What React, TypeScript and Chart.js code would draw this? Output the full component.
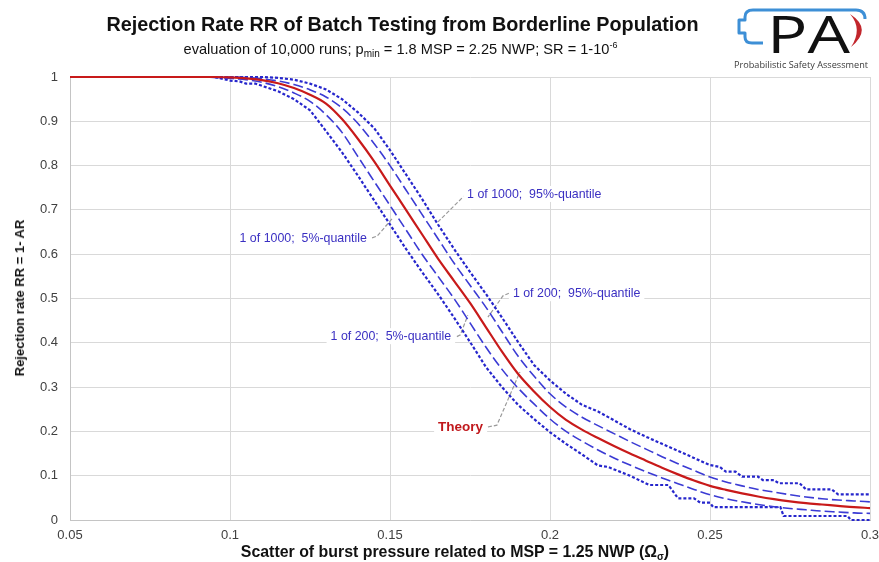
import React, { useEffect, useRef } from "react";
import { Chart, registerables } from "chart.js";

Chart.register(...registerables);

// Shared x grid (scatter of burst pressure) for the theory and 1-of-200 curves
const xGrid = [
  0.05, 0.09, 0.095, 0.1, 0.105, 0.11, 0.115, 0.12, 0.125, 0.13, 0.135, 0.14, 0.145,
  0.15, 0.155, 0.16, 0.165, 0.17, 0.175, 0.18, 0.185, 0.19, 0.195, 0.2, 0.205, 0.21,
  0.215, 0.22, 0.225, 0.23, 0.235, 0.24, 0.245, 0.25, 0.255, 0.26, 0.265, 0.27, 0.275,
  0.28, 0.285, 0.29, 0.295, 0.3,
];

const theoryRR = [
  1, 1, 1, 0.999, 0.997, 0.993, 0.986, 0.975, 0.96, 0.94, 0.905, 0.86, 0.81,
  0.755, 0.7, 0.645, 0.59, 0.54, 0.49, 0.435, 0.38, 0.33, 0.29, 0.255, 0.226, 0.204,
  0.185, 0.167, 0.15, 0.134, 0.118, 0.103, 0.089, 0.077, 0.068, 0.06, 0.053, 0.047, 0.042,
  0.038, 0.035, 0.032, 0.029, 0.027,
];

const q95of200 = [
  1, 1, 1, 1, 0.999, 0.996, 0.991, 0.983, 0.971, 0.955, 0.93, 0.895, 0.85,
  0.8, 0.745, 0.69, 0.635, 0.58, 0.53, 0.48, 0.425, 0.37, 0.325, 0.285, 0.255, 0.232,
  0.213, 0.195, 0.177, 0.16, 0.143, 0.127, 0.112, 0.097, 0.086, 0.077, 0.069, 0.063, 0.057,
  0.052, 0.048, 0.045, 0.043, 0.041,
];

const q5of200 = [
  1, 1, 0.999, 0.997, 0.994, 0.988, 0.978, 0.964, 0.945, 0.915, 0.875, 0.82, 0.765,
  0.71, 0.655, 0.6, 0.55, 0.5, 0.445, 0.39, 0.34, 0.298, 0.262, 0.228, 0.2, 0.178,
  0.158, 0.14, 0.124, 0.109, 0.095, 0.082, 0.069, 0.057, 0.048, 0.041, 0.035, 0.03, 0.026,
  0.023, 0.02, 0.018, 0.016, 0.015,
];

// 1 of 1000 quantiles (stepped, noisy simulation results)
const x95of1000 = [
  0.05, 0.11, 0.115, 0.12, 0.125, 0.13, 0.135, 0.14, 0.145, 0.15, 0.155, 0.16, 0.165,
  0.17, 0.175, 0.18, 0.185, 0.19, 0.195, 0.2, 0.205, 0.21, 0.215, 0.22, 0.225, 0.23,
  0.235, 0.24, 0.245, 0.25, 0.253, 0.255, 0.258, 0.26, 0.265, 0.2665, 0.27, 0.2715,
  0.278, 0.28, 0.288, 0.29, 0.3,
];
const q95of1000 = [
  1, 1, 0.998, 0.994, 0.985, 0.972, 0.95, 0.92, 0.885, 0.835, 0.78, 0.725, 0.667,
  0.612, 0.56, 0.51, 0.457, 0.402, 0.35, 0.315, 0.285, 0.26, 0.245, 0.225, 0.205, 0.188,
  0.172, 0.156, 0.14, 0.124, 0.12, 0.109, 0.109, 0.098, 0.098, 0.09, 0.09, 0.083,
  0.083, 0.069, 0.069, 0.058, 0.058,
];

const x5of1000 = [
  0.05, 0.095, 0.1, 0.103, 0.105, 0.108, 0.11, 0.115, 0.12, 0.125, 0.13, 0.135, 0.14,
  0.145, 0.15, 0.155, 0.16, 0.165, 0.17, 0.175, 0.18, 0.185, 0.19, 0.195, 0.2, 0.205,
  0.21, 0.215, 0.218, 0.225, 0.231, 0.237, 0.24, 0.245, 0.247, 0.25, 0.251, 0.272,
  0.273, 0.293, 0.294, 0.3,
];
const q5of1000 = [
  1, 1, 0.992, 0.99, 0.985, 0.985, 0.98, 0.968, 0.95, 0.925, 0.878, 0.83, 0.777,
  0.722, 0.667, 0.612, 0.56, 0.51, 0.457, 0.402, 0.345, 0.3, 0.26, 0.228, 0.198, 0.172,
  0.148, 0.123, 0.12, 0.1, 0.079, 0.079, 0.049, 0.049, 0.039, 0.039, 0.029, 0.029,
  0.009, 0.009, 0, 0,
];

// Axis ticks
const xTicks = [0.05, 0.1, 0.15, 0.2, 0.25, 0.3];
const yTicks = [0, 0.1, 0.2, 0.3, 0.4, 0.5, 0.6, 0.7, 0.8, 0.9, 1];

// Callout labels (in data coordinates)
const noteTexts = [
  "1 of 1000;  95%-quantile",
  "1 of 1000;  5%-quantile",
  "1 of 200;  95%-quantile",
  "1 of 200;  5%-quantile",
  "Theory",
];
const noteX = [0.1741, 0.1428, 0.1884, 0.1691, 0.1791];
const noteY = [0.736, 0.637, 0.512, 0.415, 0.21];
const noteAlign = ["left", "right", "left", "right", "right"];
const leaderX = [
  [0.1738, 0.1728, 0.165],
  [0.1444, 0.146, 0.1509],
  [0.1872, 0.1853, 0.1806],
  [0.1709, 0.172, 0.1743],
  [0.1806, 0.1834, 0.1906],
];
const leaderY = [
  [0.736, 0.729, 0.673],
  [0.637, 0.641, 0.682],
  [0.512, 0.506, 0.458],
  [0.414, 0.418, 0.462],
  [0.21, 0.214, 0.334],
];

const FONT = '"Liberation Sans", Arial, Helvetica, sans-serif';
const BLUE_TXT = "#3a2fc2";

const notesPlugin = {
  id: "notes",
  beforeDatasetsDraw(chart: any) {
    const { ctx, scales } = chart;
    const xs = scales.x;
    const ys = scales.y;
    ctx.save();
    // leader lines
    ctx.strokeStyle = "#9a9a9a";
    ctx.lineWidth = 1.2;
    ctx.setLineDash([4, 2]);
    leaderX.forEach((lx, i) => {
      ctx.beginPath();
      lx.forEach((xv, j) => {
        const px = xs.getPixelForValue(xv);
        const py = ys.getPixelForValue(leaderY[i][j]);
        if (j === 0) ctx.moveTo(px, py);
        else ctx.lineTo(px, py);
      });
      ctx.stroke();
    });
    ctx.setLineDash([]);
    // labels
    noteTexts.forEach((t, i) => {
      const isTheory = t === "Theory";
      ctx.font = isTheory ? `bold 13.5px ${FONT}` : `12.4px ${FONT}`;
      const w = ctx.measureText(t).width;
      const px = xs.getPixelForValue(noteX[i]);
      const py = ys.getPixelForValue(noteY[i]);
      const left = noteAlign[i] === "left" ? px : px - w;
      ctx.fillStyle = "#ffffff";
      ctx.fillRect(left - 4, py - 8, w + 8, 16);
      ctx.fillStyle = isTheory ? "#c0181c" : BLUE_TXT;
      ctx.textBaseline = "middle";
      ctx.textAlign = "left";
      ctx.fillText(t, left, py + 0.5);
    });
    ctx.restore();
  },
};

export default function App() {
  const ref = useRef<HTMLCanvasElement | null>(null);

  useEffect(() => {
    const pts = (xa: number[], ya: number[]) => xa.map((x, i) => ({ x, y: ya[i] }));
    const chart = new Chart(ref.current as HTMLCanvasElement, {
      type: "line",
      data: {
        datasets: [
          {
            label: "Theory",
            data: pts(xGrid, theoryRR),
            borderColor: "#c81a1a",
            borderWidth: 2.2,
            cubicInterpolationMode: "monotone",
            pointRadius: 0,
            clip: 3,
          },
          {
            label: "1 of 200; 95%-quantile",
            data: pts(xGrid, q95of200),
            borderColor: "#3b3bd4",
            borderWidth: 1.6,
            borderDash: [10, 4],
            cubicInterpolationMode: "monotone",
            pointRadius: 0,
            clip: 3,
          },
          {
            label: "1 of 200; 5%-quantile",
            data: pts(xGrid, q5of200),
            borderColor: "#3b3bd4",
            borderWidth: 1.6,
            borderDash: [10, 4],
            cubicInterpolationMode: "monotone",
            pointRadius: 0,
            clip: 3,
          },
          {
            label: "1 of 1000; 95%-quantile",
            data: pts(x95of1000, q95of1000),
            borderColor: "#2626cc",
            borderWidth: 2.2,
            borderDash: [3, 2],
            tension: 0,
            pointRadius: 0,
            clip: 3,
          },
          {
            label: "1 of 1000; 5%-quantile",
            data: pts(x5of1000, q5of1000),
            borderColor: "#2626cc",
            borderWidth: 2.2,
            borderDash: [3, 2],
            tension: 0,
            pointRadius: 0,
            clip: 3,
          },
        ],
      },
      options: {
        responsive: false,
        animation: false,
        devicePixelRatio: 1,
        layout: { padding: { left: 0, right: 9, top: 77, bottom: 0 } },
        plugins: {
          legend: { display: false },
          tooltip: { enabled: false },
          title: { display: false },
        },
        elements: { point: { radius: 0 } },
        scales: {
          x: {
            type: "linear",
            min: xTicks[0],
            max: xTicks[xTicks.length - 1],
            afterBuildTicks: (s: any) => {
              s.ticks = xTicks.map((v) => ({ value: v }));
            },
            ticks: {
              autoSkip: false,
              maxRotation: 0,
              padding: 8,
              color: "#404040",
              font: { family: FONT, size: 13 },
              callback: (v: any) => String(Math.round(Number(v) * 100) / 100),
            },
            grid: { color: "#d9d9d9", lineWidth: 1, drawTicks: false },
            border: { color: "#c4c4c4", width: 1 },
            afterFit: (s: any) => {
              s.height = 42;
              s.paddingLeft = 0;
              s.paddingRight = 0;
            },
          },
          y: {
            type: "linear",
            min: yTicks[0],
            max: yTicks[yTicks.length - 1],
            afterBuildTicks: (s: any) => {
              s.ticks = yTicks.map((v) => ({ value: v }));
            },
            ticks: {
              autoSkip: false,
              padding: 12,
              color: "#404040",
              font: { family: FONT, size: 13 },
              callback: (v: any) => String(Math.round(Number(v) * 10) / 10),
            },
            grid: { color: "#d9d9d9", lineWidth: 1, drawTicks: false },
            border: { color: "#c4c4c4", width: 1 },
            afterFit: (s: any) => {
              s.width = 70;
              s.paddingTop = 0;
              s.paddingBottom = 0;
            },
          },
        },
      } as any,
      plugins: [notesPlugin],
    });
    return () => chart.destroy();
  }, []);

  return (
    <div
      style={{
        position: "fixed",
        left: 0,
        top: 0,
        width: 879,
        height: 562,
        background: "#ffffff",
        overflow: "hidden",
        fontFamily: FONT,
      }}
    >
      <canvas ref={ref} width={879} height={562} style={{ position: "absolute", left: 0, top: 0 }} />
      <div
        style={{
          position: "absolute",
          left: 0,
          top: 13,
          width: 805,
          textAlign: "center",
          fontWeight: "bold",
          fontSize: 19.8,
          lineHeight: "22px",
          color: "#111",
          whiteSpace: "nowrap",
        }}
      >
        Rejection Rate RR of Batch Testing from Borderline Population
      </div>
      <div
        style={{
          position: "absolute",
          left: 0,
          top: 37,
          width: 801,
          textAlign: "center",
          fontSize: 14.6,
          lineHeight: "17px",
          color: "#111",
          whiteSpace: "nowrap",
        }}
      >
        evaluation of 10,000 runs; p<sub style={{ fontSize: 10, verticalAlign: -3 }}>min</sub> = 1.8 MSP = 2.25 NWP; SR = 1-10
        <sup style={{ fontSize: 9, verticalAlign: 6 }}>-6</sup>
      </div>
      <div
        style={{
          position: "absolute",
          left: 20,
          top: 298,
          transform: "translate(-50%, -50%) rotate(-90deg)",
          fontWeight: "bold",
          fontSize: 13,
          lineHeight: "16px",
          color: "#111",
          whiteSpace: "nowrap",
        }}
      >
        Rejection rate RR = 1- AR
      </div>
      <div
        style={{
          position: "absolute",
          left: 0,
          top: 543,
          width: 910,
          textAlign: "center",
          fontWeight: "bold",
          fontSize: 15.9,
          lineHeight: "18px",
          color: "#111",
          whiteSpace: "nowrap",
        }}
      >
        Scatter of burst pressure related to MSP = 1.25 NWP (Ω<sub style={{ fontSize: 10, verticalAlign: -3 }}>σ</sub>)
      </div>
      <svg
        width={149}
        height={76}
        viewBox="730 0 149 76"
        style={{ position: "absolute", left: 730, top: 0 }}
      >
        <path
          d="M 865 19 Q 865 10 856 10 L 753 10 Q 745 10 745 17 L 745 20 L 739 20 L 739 33 L 745 33 L 745 37 Q 745 43 752 43 L 763 43"
          fill="none"
          stroke="#3d8fd6"
          strokeWidth={3}
          strokeLinejoin="round"
        />
        <path d="M 850 14 Q 873 29 851 47 Q 863 29 850 14 Z" fill="#c2262c" />
        <text
          x={767}
          y={53}
          fontFamily='"Open Sans", "Liberation Sans", Arial, sans-serif'
          fontSize={52}
          fill="#111"
          textLength={83}
          lengthAdjust="spacingAndGlyphs"
        >
          PA
        </text>
        <text
          x={734}
          y={68}
          fontFamily='"Open Sans", "DejaVu Sans", sans-serif'
          fontSize={8.6}
          fill="#3a3a3a"
          textLength={134}
          lengthAdjust="spacingAndGlyphs"
        >
          Probabilistic Safety Assessment
        </text>
      </svg>
    </div>
  );
}
